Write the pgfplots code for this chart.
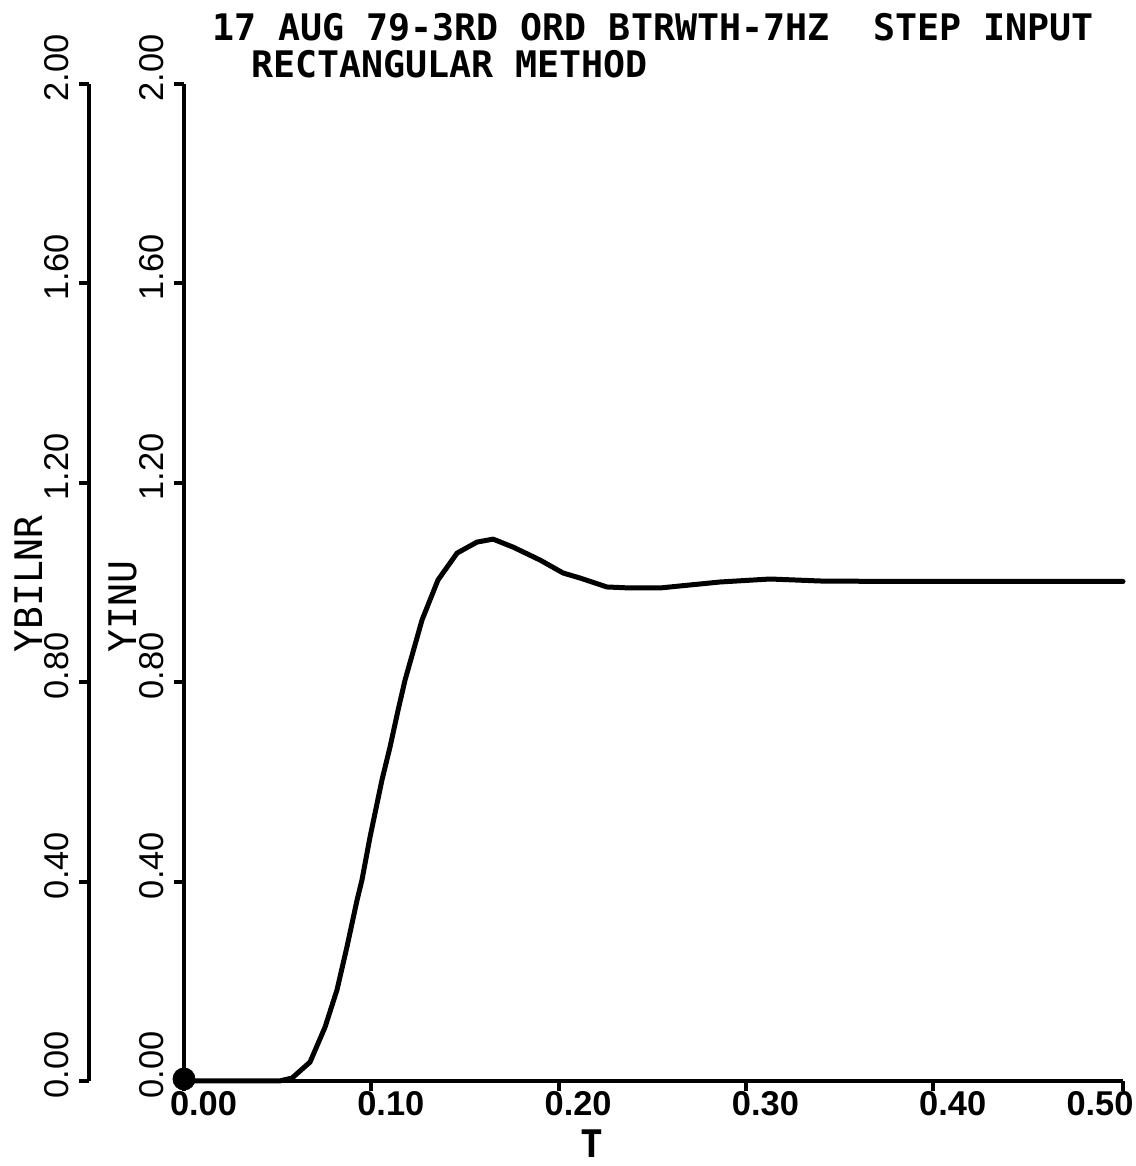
\documentclass[border=0pt]{standalone}
\usepackage{pgfplots}
\pgfplotsset{compat=1.18}
\usepackage{fontspec}
\setmainfont{Liberation Sans}
\newfontfamily\plotmono{DejaVu Sans Mono}
\newfontfamily\ticksf{Liberation Sans}

\pgfplotsset{
  plotterstyle/.style={
    scale only axis,
    width=469.5pt, height=498.5pt,
    ymin=0, ymax=2,
    axis y line*=left,
    axis line style={line width=2pt, black, -},
    y axis line style={-},
    ytick={0,0.4,0.8,1.2,1.6,2.0},
    yticklabels={0.00,0.40,0.80,1.20,1.60,2.00},
    ytick pos=left,
    tick align=outside,
    major tick length=5pt,
    tick style={line width=2pt, black},
    yticklabel style={font=\ticksf\fontsize{17.2}{17.2}\selectfont, inner sep=0pt,
       rotate=90, anchor=south, xshift=8pt, yshift=5pt},
    every axis y label/.style={rotate=90, anchor=south west, inner sep=0pt,
       font=\plotmono\fontsize{19}{19}\selectfont},
  }
}

\begin{document}
\begin{tikzpicture}
% left axis (YBILNR)
\begin{axis}[plotterstyle,
  at={(44.5pt,42.5pt)}, anchor=south west,
  xmin=0, xmax=0.50133,
  hide x axis,
  ylabel={YBILNR},
  ylabel style={at={(axis description cs:-0.0490,0.4293)}},
]
\addplot[draw=none] coordinates {(0,0)};
\end{axis}
% main axis (YINU vs T)
\begin{axis}[plotterstyle,
  at={(92pt,42.5pt)}, anchor=south west,
  xmin=0, xmax=0.50133,
  axis x line*=bottom,
  x axis line style={-},
  xtick={0,0.1,0.2,0.3,0.4},
  xticklabels={0.00,0.10,0.20,0.30,0.40},
  xtick pos=left,
  xticklabel style={font=\ticksf\bfseries\fontsize{17.2}{17.2}\selectfont, inner sep=0pt,
     anchor=north, xshift=9.75pt},
  extra x ticks={0.50133},
  extra x tick labels={0.50},
  extra x tick style={xticklabel style={xshift=-21.25pt}},
  ylabel={YINU},
  ylabel style={at={(axis description cs:-0.0501,0.4293)}},
  xlabel={T},
  xlabel style={at={(axis description cs:0.4343,-0.049)}, anchor=north, inner sep=0pt,
     font=\plotmono\bfseries\fontsize{19}{19}\selectfont},
  title={17 AUG 79-3RD ORD BTRWTH-7HZ\ \ STEP INPUT\\\hspace*{19.5pt}RECTANGULAR METHOD},
  title style={at={(axis description cs:0.0298,1.0592)}, anchor=north west, inner sep=0pt,
     align=left, font=\plotmono\bfseries\fontsize{18.3}{18.5}\selectfont},
  clip=false,
]
\addplot[black, line width=2.5pt, line join=round, line cap=round] coordinates {
(0,0) (0.051,0) (0.0577,0.006) (0.0673,0.038) (0.0753,0.108) (0.0817,0.183)
(0.0870,0.269) (0.0924,0.363) (0.0950,0.403) (0.0993,0.489) (0.1057,0.604)
(0.1100,0.670) (0.1143,0.744) (0.1180,0.804) (0.1271,0.925) (0.1356,1.005)
(0.1458,1.059) (0.1564,1.081) (0.1650,1.087) (0.1757,1.071) (0.1901,1.045)
(0.2024,1.019) (0.2114,1.009) (0.2258,0.991) (0.2381,0.989) (0.2541,0.989)
(0.2862,1.001) (0.3129,1.007) (0.3396,1.003) (0.38,1.002) (0.45,1.002) (0.50133,1.002)
};
\addplot[only marks, mark=*, mark size=5.5pt, black] coordinates {(0,0.004)};
\end{axis}
\pgfresetboundingbox
\path[use as bounding box] (0,0) rectangle (567.5pt,583pt);
\end{tikzpicture}
\end{document}
